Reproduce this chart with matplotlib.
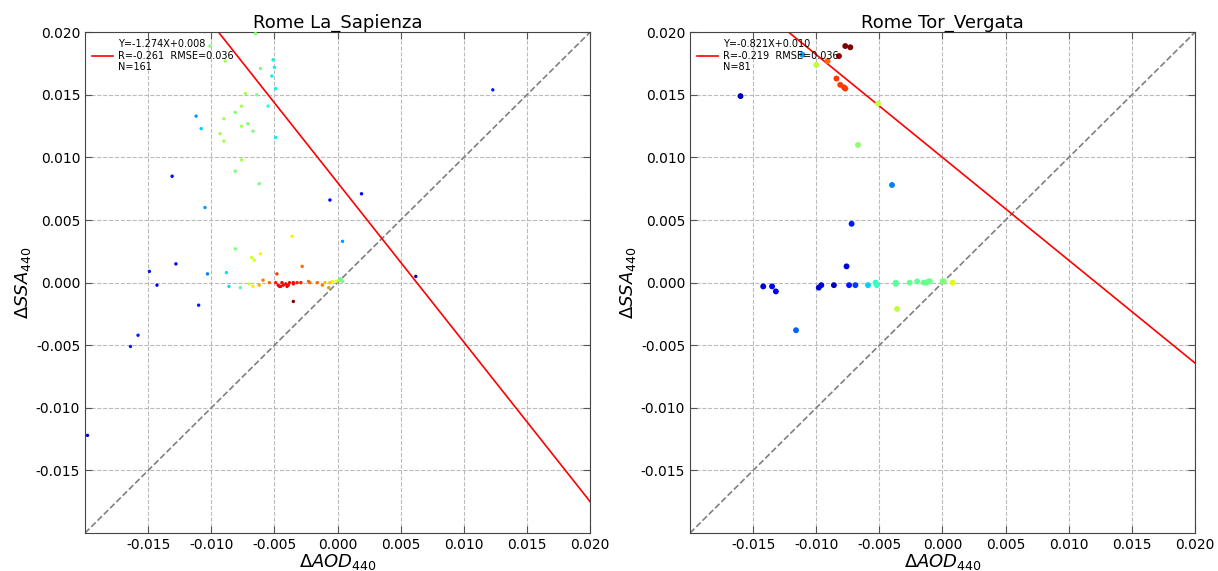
import matplotlib.pyplot as plt

# Rome La_Sapienza: dAOD, dSSA and colour value (jet)
sap_x = [-0.0198, -0.0164, -0.0158, -0.0149, -0.0143, -0.0131, -0.0128, -0.0112, -0.0108,
         -0.0110, -0.0105, -0.0103, -0.0006, 0.0019, 0.0004, 0.0062, 0.0123,
         -0.0065, -0.0101, -0.0089, -0.0061, -0.0051, -0.0050, -0.0052, -0.0049,
         -0.0073, -0.0064, -0.0055, -0.0076, -0.0081, -0.0090, -0.0076, -0.0071,
         -0.0093, -0.0067, -0.0049, -0.0090, -0.0076, -0.0081, -0.0062,
         -0.0036, -0.0028, -0.0081, -0.0061, -0.0068, -0.0066, -0.0048,
         -0.0088, -0.0086, -0.0077, -0.0070, -0.0067, -0.0062, -0.0059, -0.0054,
         -0.0049, -0.0047, -0.0045, -0.0044, -0.0041, -0.0040, -0.0038, -0.0035,
         -0.0032, -0.0029, -0.0046, -0.0043, -0.0039, -0.0035,
         -0.0023, -0.0022, -0.0016, -0.0012, -0.0006, -0.0007, -0.0004, -0.0001,
         0.0001, 0.0004, -0.0010, 0.0003, 0.0002, -0.0035]
sap_y = [-0.0122, -0.0051, -0.0042, 0.0009, -0.0002, 0.0085, 0.0015, 0.0133, 0.0123,
         -0.0018, 0.0060, 0.0007, 0.0066, 0.0071, 0.0033, 0.0005, 0.0154,
         0.0199, 0.0189, 0.0177, 0.0171, 0.0178, 0.0172, 0.0165, 0.0155,
         0.0151, 0.0150, 0.0141, 0.0141, 0.0136, 0.0131, 0.0125, 0.0127,
         0.0119, 0.0121, 0.0116, 0.0113, 0.0098, 0.0089, 0.0079,
         0.0037, 0.0013, 0.0027, 0.0023, 0.0020, 0.0018, 0.0007,
         0.0008, -0.0003, -0.0004, -0.0001, -0.0003, -0.0002, 0.0002, 0.0000,
         0.0000, -0.0002, -0.0003, 0.0000, -0.0001, -0.0003, 0.0000, -0.0001,
         0.0000, 0.0000, -0.0003, -0.0002, -0.0002, 0.0000,
         0.0001, 0.0000, 0.0000, -0.0002, 0.0000, -0.0004, 0.0001, 0.0001,
         0.0002, 0.0001, 0.0000, 0.0002, 0.0003, -0.0015]
sap_c = [0.08, 0.15, 0.15, 0.15, 0.12, 0.12, 0.12, 0.28, 0.33,
         0.15, 0.28, 0.25, 0.12, 0.12, 0.28, 0.05, 0.15,
         0.5, 0.5, 0.55, 0.5, 0.36, 0.36, 0.36, 0.36,
         0.55, 0.5, 0.4, 0.55, 0.5, 0.55, 0.55, 0.5,
         0.55, 0.5, 0.36, 0.55, 0.55, 0.5, 0.5,
         0.65, 0.8, 0.5, 0.65, 0.6, 0.6, 0.85,
         0.35, 0.35, 0.45, 0.6, 0.66, 0.72, 0.78, 0.8,
         0.88, 0.9, 0.9, 0.9, 0.9, 0.9, 0.9, 0.9,
         0.88, 0.88, 0.9, 0.9, 0.9, 0.9,
         0.8, 0.8, 0.8, 0.78, 0.7, 0.75, 0.65, 0.62,
         0.58, 0.48, 0.7, 0.5, 0.45, 1.0]

# Rome Tor_Vergata
tor_x = [-0.0160, -0.0111, -0.0100, -0.0091, -0.0082, -0.0077, -0.0073, -0.0084, -0.0081,
         -0.0078, -0.0077, -0.0051, -0.0067, -0.0040, -0.0072, -0.0076, -0.0142,
         -0.0135, -0.0132, -0.0116, -0.0098, -0.0096, -0.0086, -0.0074, -0.0069,
         -0.0059, -0.0053, -0.0052, -0.0037, -0.0037, -0.0026, -0.0020, -0.0015,
         -0.0013, -0.0011, -0.0010, 0.0000, 0.0001, 0.0008, -0.0036]
tor_y = [0.0149, 0.0182, 0.0174, 0.0177, 0.0181, 0.0189, 0.0188, 0.0163, 0.0158,
         0.0156, 0.0155, 0.0143, 0.0110, 0.0078, 0.0047, 0.0013, -0.0003,
         -0.0003, -0.0007, -0.0038, -0.0004, -0.0002, -0.0002, -0.0002, -0.0002,
         -0.0002, 0.0000, -0.0002, -0.0001, 0.0000, 0.0000, 0.0001, 0.0000,
         0.0000, 0.0001, 0.0001, 0.0001, 0.0001, 0.0000, -0.0021]
tor_c = [0.05, 0.28, 0.58, 0.8, 0.98, 1.0, 1.0, 0.85, 0.85,
         0.85, 0.85, 0.58, 0.52, 0.25, 0.15, 0.08, 0.08,
         0.12, 0.12, 0.22, 0.08, 0.08, 0.05, 0.15, 0.18,
         0.33, 0.4, 0.42, 0.45, 0.46, 0.47, 0.47, 0.48,
         0.48, 0.48, 0.48, 0.5, 0.5, 0.62, 0.58]

panels = [
    ('Rome La_Sapienza', sap_x, sap_y, sap_c, -1.274, 0.008, 'Y=-1.274X+0.008\nR=-0.261  RMSE=0.036\nN=161', 6),
    ('Rome Tor_Vergata', tor_x, tor_y, tor_c, -0.821, 0.010, 'Y=-0.821X+0.010\nR=-0.219  RMSE=0.036\nN=81', 18),
]

fig = plt.figure(figsize=(12.18, 5.71), dpi=100)
lefts = [0.0698, 0.5665]
ticks = [-0.015, -0.010, -0.005, 0.000, 0.005, 0.010, 0.015, 0.020]

for left, (title, x, y, c, k, b, label, size) in zip(lefts, panels):
    ax = fig.add_axes([left, 0.0665, 0.4146, 0.877])
    ax.set_xlim(-0.02, 0.02)
    ax.set_ylim(-0.02, 0.02)
    ax.grid(True, linestyle='--', color='#bbbbbb', linewidth=0.8)
    ax.set_axisbelow(True)
    ax.plot([-0.02, 0.02], [-0.02, 0.02], linestyle='--', color='gray', linewidth=1.2)
    ax.scatter(x, y, c=c, cmap='jet', vmin=0, vmax=1, s=size, edgecolors='none', zorder=3)
    ax.plot([-0.02, 0.02], [k * -0.02 + b, k * 0.02 + b], color='red', linewidth=1.2, label=label)
    ax.set_xticks(ticks)
    ax.set_yticks(ticks)
    ax.set_xticklabels(['%.3f' % t for t in ticks])
    ax.set_yticklabels(['%.3f' % t for t in ticks])
    ax.tick_params(direction='in', top=True, right=True, labelsize=10, length=5, color='#555555')
    for sp in ax.spines.values():
        sp.set_color('#444444')
    ax.set_xlabel(r'$\Delta AOD_{440}$', fontsize=13, labelpad=0)
    ax.set_ylabel(r'$\Delta SSA_{440}$', fontsize=13, labelpad=2)
    ax.set_title(title, fontsize=13, pad=3)
    ax.legend(loc='upper left', frameon=False, fontsize=7, handlelength=2.2,
              handletextpad=0.5, borderaxespad=0.3)

fig.savefig('out.png', dpi=100)
